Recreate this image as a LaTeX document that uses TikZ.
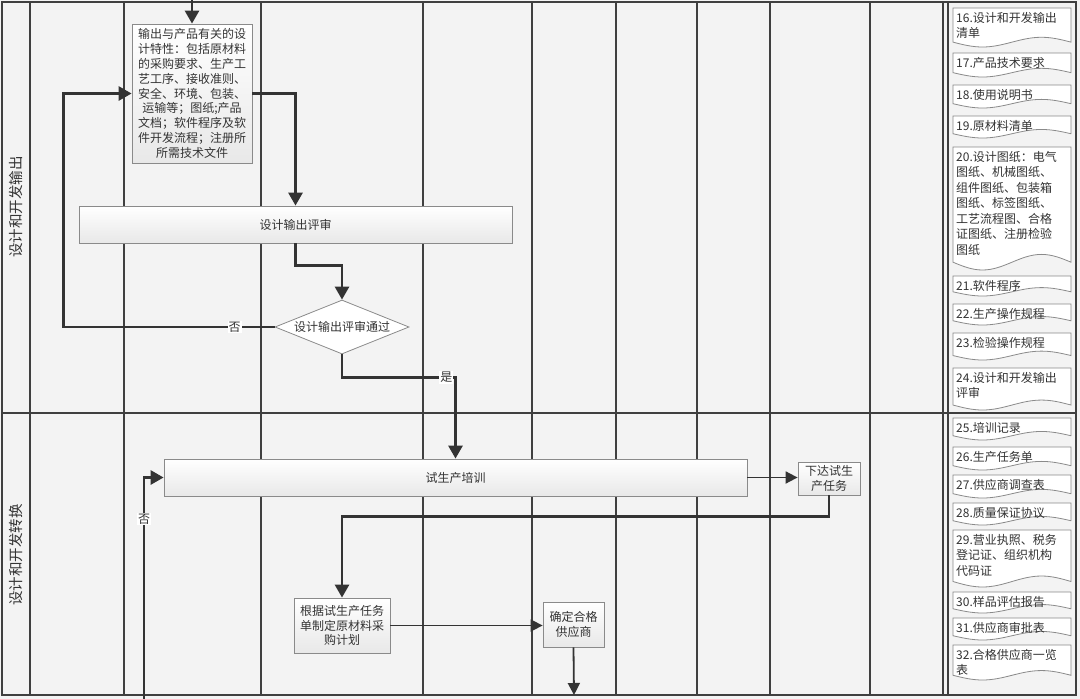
\documentclass[tikz,border=0pt]{standalone}
\usepackage{fontspec}
\setmainfont{Noto Sans CJK SC}
\usepackage{tikz}
\usetikzlibrary{arrows.meta, calc, positioning, shapes.geometric}
\definecolor{lanebg}{HTML}{F3F3F3}
\definecolor{laneline}{HTML}{3F3F3F}
\definecolor{boxedge}{HTML}{8A8A8A}
\definecolor{flowink}{HTML}{333333}

\begin{document}
\begin{tikzpicture}[x=1pt,y=-1pt,
    lane/.style={laneline,line width=2.4pt},
    procbox/.style={draw=boxedge,line width=0.8pt,top color=white,bottom color=black!9,
      align=center,inner sep=1pt,text=flowink,font=\fontsize{12}{14.5}\selectfont},
    decision/.style={diamond,draw=boxedge,line width=0.8pt,fill=white,inner sep=0pt,
      text=flowink,font=\fontsize{12}{14}\selectfont},
    flow/.style={flowink,line width=2.8pt,-{Triangle[length=13pt,width=14pt]}},
    thinflow/.style={flowink,line width=1.8pt,-{Triangle[length=12pt,width=12pt]}},
    yesno/.style={fill=white,inner sep=1pt,text=flowink,font=\fontsize{12}{13}\selectfont},
    docedge/.style={draw=boxedge,line width=0.8pt,fill=white},
    doctext/.style={align=left,inner sep=2pt,text=flowink,font=\fontsize{12}{15.5}\selectfont},
    lanetitle/.style={rotate=90,text=flowink,font=\fontsize{14.5}{16}\selectfont}]
  \useasboundingbox (0,0) rectangle (1080,699);
  \fill[lanebg] (0,0) rectangle (1080,699);
  % swimlanes
  \draw[lane] (2,2) rectangle (1076,695);
  \draw[lane] (2,413) -- (1076,413);
  \foreach \x in {30,124,261,423,532,616,697,770,870,943,948}
    \draw[lane] (\x,2) -- (\x,695);
  \node[lanetitle] (lblout) at (16,207) {设计和开发输出};
  \node[lanetitle] (lbltrans) at (16,555) {设计和开发转换};

  % flow boxes
  \node[procbox,minimum width=120pt,minimum height=139pt,font=\fontsize{12}{14.9}\selectfont] (outspec) at (192,93.5)
    {输出与产品有关的设\\计特性：包括原材料\\的采购要求、生产工\\艺工序、接收准则、\\安全、环境、包装、\\运输等；图纸;产品\\文档；软件程序及软\\件开发流程；注册所\\所需技术文件};
  \node[procbox,minimum width=433pt,minimum height=37pt] (outrev) at (295.5,224.5) {设计输出评审};
  \node[decision,minimum width=134pt,minimum height=54pt,aspect=2.48] (revok) at (342,327) {设计输出评审通过};
  \node[procbox,minimum width=583pt,minimum height=37pt] (train) at (455.5,477.5) {试生产培训};
  \node[procbox,minimum width=62pt,minimum height=33pt] (task) at (829,478.5) {下达试生\\产任务};
  \node[procbox,minimum width=96pt,minimum height=55pt] (plan) at (342,625.5) {根据试生产任务\\单制定原材料采\\购计划};
  \node[procbox,minimum width=61pt,minimum height=45pt] (supp) at (573.5,624.5) {确定合格\\供应商};

  \coordinate (topin) at (192,0);
  \coordinate (nobot) at (144,699);
  \coordinate (gbot) at (574,695);

  % connectors
  \draw[flow] (topin) -- (outspec);
  \draw[flow] (outspec.east) -| (outrev.north);
  \draw[flow] (outrev.south) -- ++(0,22) -| (revok.north);
  \draw[flow] (revok.west) -- ++(-211,0) node[yesno,pos=0.19] {否} |- (outspec.west);
  \draw[flow] (revok.south) -- ++(0,23) -| node[yesno,pos=0.46] {是} (train.north);
  \draw[flow] (nobot) -- ++(0,-180) node[yesno] {否} |- (train.west);
  \draw[thinflow] (train.east) -- (train.east -| task.west);
  \draw[flow] (task.south) -- ++(0,21) -| (plan.north);
  \draw[thinflow] (plan.east) -- (plan.east -| supp.west);
  \draw[thinflow] (supp.south) -- (gbot);

  % record documents
  \foreach \dtop/\dbot/\dtxt [count=\k from 16] in {
      8/47/{16.设计和开发输出\\清单},
      53/77/{17.产品技术要求},
      85/108/{18.使用说明书},
      116/138/{19.原材料清单},
      147/270/{20.设计图纸：电气\\图纸、机械图纸、\\组件图纸、包装箱\\图纸、标签图纸、\\工艺流程图、合格\\证图纸、注册检验\\图纸},
      276/296/{21.软件程序},
      304/325/{22.生产操作规程},
      333/360/{23.检验操作规程},
      368/410/{24.设计和开发输出\\评审},
      418/440/{25.培训记录},
      447/470/{26.生产任务单},
      475/498/{27.供应商调查表},
      503/525/{28.质量保证协议},
      530/587/{29.营业执照、税务\\登记证、组织机构\\代码证},
      592/613/{30.样品评估报告},
      618/640/{31.供应商审批表},
      645/680/{32.合格供应商一览\\表}} {
    \pgfmathsetmacro\amp{3.5+0.035*(\dbot-\dtop)}
    \draw[docedge] (953,\dtop) -- (1071,\dtop) -- (1071,{\dbot-\amp})
      sin (1041.5,{\dbot-2*\amp}) cos (1012,{\dbot-\amp})
      sin (982.5,\dbot) cos (953,{\dbot-\amp}) -- cycle;
    \node[doctext,anchor=north west] (doc\k) at (954,\dtop+2) {\dtxt};
  }
\end{tikzpicture}
\end{document}
